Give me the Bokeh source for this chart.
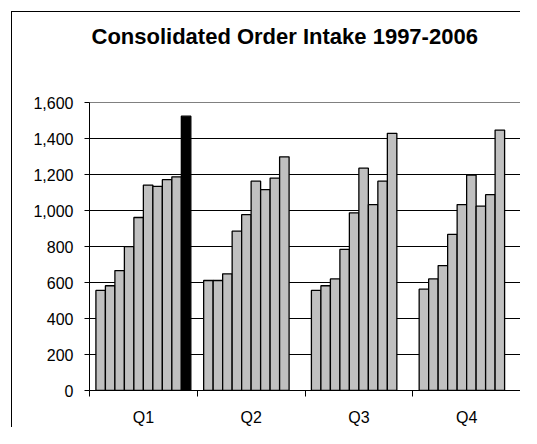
from bokeh.plotting import figure
from bokeh.models import FixedTicker, NumeralTickFormatter, Range1d, ColumnDataSource, Title
from bokeh.embed import file_html
from bokeh.resources import INLINE

# ---- data ----
title_text = "Consolidated Order Intake 1997-2006"
quarters = ["Q1", "Q2", "Q3", "Q4"]
years = [1997, 1998, 1999, 2000, 2001, 2002, 2003, 2004, 2005, 2006]
q1_values = [556, 582, 666, 799, 961, 1141, 1134, 1171, 1187, 1524]
q2_values = [611, 611, 648, 885, 977, 1163, 1116, 1180, 1298]
q3_values = [556, 582, 620, 784, 987, 1235, 1033, 1163, 1429]
q4_values = [563, 620, 694, 867, 1033, 1197, 1024, 1088, 1447]
y_ticks = [0, 200, 400, 600, 800, 1000, 1200, 1400, 1600]

series = [q1_values, q2_values, q3_values, q4_values]
n_years = len(years)
slot = 0.881 / n_years

xs, tops, fills = [], [], []
for qi, vals in enumerate(series):
    for j, v in enumerate(vals):
        xs.append(qi + 0.5 + (j - (n_years - 1) / 2) * slot)
        tops.append(v)
        fills.append("#000000" if years[j] == 2006 else "#C0C0C0")
src = ColumnDataSource(dict(x=xs, top=tops, fill=fills))

p = figure(width=509, height=416, output_backend="svg", toolbar_location=None,
           x_range=Range1d(0, len(quarters)), y_range=Range1d(y_ticks[0], y_ticks[-1]),
           min_border_left=77, min_border_right=1, min_border_top=89, min_border_bottom=38,
           margin=(11, 0, 0, 11),
           styles={"border-left": "1px solid #000", "border-top": "1px solid #000"})
p.background_fill_color = "white"
p.border_fill_color = "white"
p.outline_line_color = "#808080"
p.outline_line_width = 1

# invisible spacer between the frame and the title
p.add_layout(Title(text=" ", text_font_size="1px", text_color="white", standoff=42), "above")

p.title.text = title_text
p.title.text_font = "Liberation Sans"
p.title.text_font_size = "22px"
p.title.text_font_style = "bold"
p.title.text_color = "black"
p.title.align = "left"
p.title.offset = 2
p.title.standoff = 18

p.vbar(x="x", top="top", bottom=0, width=slot, source=src,
       fill_color="fill", line_color="black", line_width=1.3)

# x axis
p.xaxis.ticker = FixedTicker(ticks=[i + 0.5 for i in range(len(quarters))],
                             minor_ticks=list(range(len(quarters) + 1)))
p.xaxis.major_label_overrides = {i + 0.5: q for i, q in enumerate(quarters)}
p.xaxis.major_tick_line_color = None
p.xaxis.minor_tick_line_color = "black"
p.xaxis.minor_tick_out = 6
p.xaxis.minor_tick_in = 0
p.xaxis.major_label_standoff = 12
p.xaxis.axis_line_color = "black"

# y axis
p.yaxis.ticker = FixedTicker(ticks=y_ticks)
p.yaxis.formatter = NumeralTickFormatter(format="0,0")
p.yaxis.major_tick_out = 5
p.yaxis.major_tick_in = 0
p.yaxis.minor_tick_line_color = None
p.yaxis.major_label_standoff = 11
p.yaxis.axis_line_color = "black"

for ax in (p.xaxis, p.yaxis):
    ax.major_label_text_font = "Liberation Sans"
    ax.major_label_text_font_size = "16px"
    ax.major_label_text_color = "black"

p.xgrid.visible = False
p.ygrid.ticker = FixedTicker(ticks=y_ticks[1:-1])
p.ygrid.grid_line_color = "black"
p.ygrid.grid_line_width = 1

open("out.html", "w").write(file_html(p, INLINE))
